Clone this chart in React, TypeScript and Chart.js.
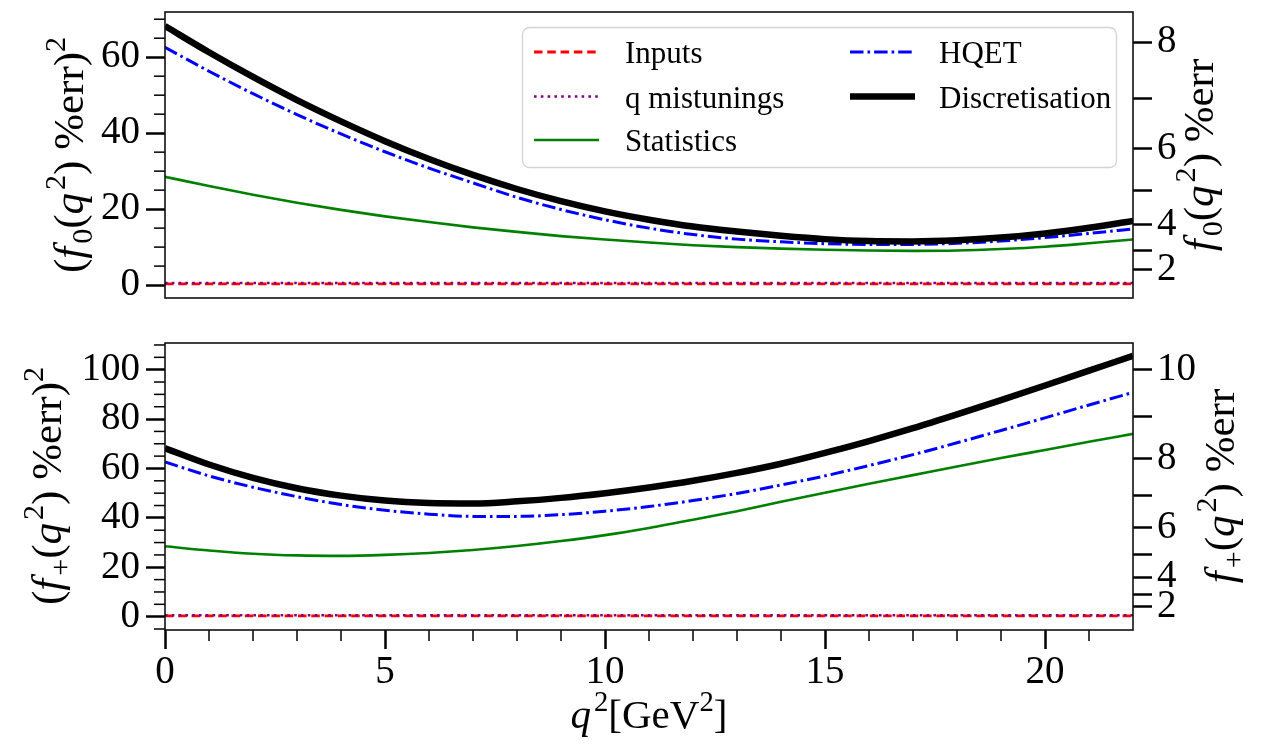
import React, { useEffect, useRef } from "react";
import { Chart, registerables } from "chart.js";
Chart.register(...registerables);

const FONT = '"Liberation Serif", "DejaVu Serif", serif';

// ---------- data ----------
const q2Values = [0, 1, 2, 3, 4, 5, 6, 7, 8, 9, 10, 11, 12, 13, 14, 15, 16, 17, 18, 19, 20, 21, 22];

// f0 panel (squared % error)
const f0Inputs = [0.3, 0.3, 0.3, 0.3, 0.3, 0.3, 0.3, 0.3, 0.3, 0.3, 0.3, 0.3, 0.3, 0.3, 0.3, 0.3, 0.3, 0.3, 0.3, 0.3, 0.3, 0.3, 0.3];
const f0Mistunings = [0.55, 0.55, 0.55, 0.55, 0.55, 0.55, 0.55, 0.55, 0.55, 0.55, 0.55, 0.55, 0.55, 0.55, 0.55, 0.55, 0.55, 0.55, 0.55, 0.55, 0.55, 0.55, 0.55];
const f0Statistics = [28.5, 26.1, 23.8, 21.7, 19.8, 18.1, 16.6, 15.2, 14.0, 12.9, 12.0, 11.2, 10.5, 10.0, 9.6, 9.3, 9.1, 9.0, 9.1, 9.5, 10.1, 11.0, 12.0];
const f0HQET = [62.6, 56.3, 50.4, 44.9, 39.8, 35.1, 30.8, 26.9, 23.1, 19.9, 17.2, 15.0, 13.3, 12.1, 11.4, 10.9, 10.7, 10.7, 11.0, 11.6, 12.5, 13.6, 14.8];
const f0Discretisation = [68.2, 61.3, 54.8, 48.7, 43.1, 37.9, 33.2, 29.0, 25.3, 22.1, 19.4, 17.2, 15.4, 14.1, 13.0, 12.1, 11.6, 11.5, 11.8, 12.5, 13.6, 15.1, 16.9];

// f+ panel (squared % error)
const fpInputs = [0.3, 0.3, 0.3, 0.3, 0.3, 0.3, 0.3, 0.3, 0.3, 0.3, 0.3, 0.3, 0.3, 0.3, 0.3, 0.3, 0.3, 0.3, 0.3, 0.3, 0.3, 0.3, 0.3];
const fpMistunings = [0.55, 0.55, 0.55, 0.55, 0.55, 0.55, 0.55, 0.55, 0.55, 0.55, 0.55, 0.55, 0.55, 0.55, 0.55, 0.55, 0.55, 0.55, 0.55, 0.55, 0.55, 0.55, 0.55];
const fpStatistics = [28.5, 26.8, 25.5, 24.8, 24.6, 25.0, 25.8, 27.0, 28.6, 30.6, 33.0, 35.9, 39.2, 42.7, 46.5, 50.2, 53.8, 57.3, 60.8, 64.2, 67.5, 70.8, 74.0];
const fpHQET = [62.6, 57.0, 52.4, 48.6, 45.4, 43.1, 41.5, 40.6, 40.6, 41.3, 42.7, 44.6, 47.0, 49.9, 53.3, 57.0, 61.2, 65.6, 70.4, 75.4, 80.5, 85.7, 90.8];
const fpDiscretisation = [68.2, 61.6, 56.2, 52.0, 49.0, 47.0, 46.0, 45.8, 46.7, 48.1, 50.0, 52.3, 55.0, 58.2, 61.9, 66.3, 71.1, 76.3, 81.9, 87.7, 93.6, 99.6, 105.6];

const seriesLabels = ["Inputs", "q mistunings", "Statistics", "HQET", "Discretisation"];

// ticks
const xMajorTicks = [0, 5, 10, 15, 20];
const xMinorTicks = [1, 2, 3, 4, 6, 7, 8, 9, 11, 12, 13, 14, 16, 17, 18, 19, 21];
const f0LeftTicks = [0, 20, 40, 60];
const f0LeftMinor = [5, 10, 15, 25, 30, 35, 45, 50, 55, 65, 70];
const f0RightPct = [2, 3, 4, 5, 6, 7, 8];
const fpLeftTicks = [0, 20, 40, 60, 80, 100];
const fpLeftMinor = [-5, 5, 10, 15, 25, 30, 35, 45, 50, 55, 65, 70, 75, 85, 90, 95, 105, 110];
const fpRightPct = [2, 3, 4, 5, 6, 7, 8, 9, 10];

// ---------- rich text ----------
type Seg = { t: string; it?: boolean; sub?: boolean; sup?: boolean };

const f0LeftTitle: Seg[] = [{ t: "(" }, { t: "f", it: true }, { t: "0", sub: true }, { t: "(" }, { t: "q", it: true }, { t: "2", sup: true }, { t: ") %err)" }, { t: "2", sup: true }];
const fpLeftTitle: Seg[] = [{ t: "(" }, { t: "f", it: true }, { t: "+", sub: true }, { t: "(" }, { t: "q", it: true }, { t: "2", sup: true }, { t: ") %err)" }, { t: "2", sup: true }];
const f0RightTitle: Seg[] = [{ t: "f", it: true }, { t: "0", sub: true }, { t: "(" }, { t: "q", it: true }, { t: "2", sup: true }, { t: ") %err" }];
const fpRightTitle: Seg[] = [{ t: "f", it: true }, { t: "+", sub: true }, { t: "(" }, { t: "q", it: true }, { t: "2", sup: true }, { t: ") %err" }];
const xTitle: Seg[] = [{ t: "q", it: true }, { t: "2", sup: true }, { t: "[GeV" }, { t: "2", sup: true }, { t: "]" }];

function segFont(s: Seg, size: number) {
  const sz = s.sub || s.sup ? size * 0.7 : size;
  return `${s.it ? "italic " : ""}${sz}px ${FONT}`;
}
function segAdvance(ctx: CanvasRenderingContext2D, s: Seg, size: number) {
  ctx.font = segFont(s, size);
  return ctx.measureText(s.t).width + (s.it ? size * 0.07 : 0);
}
function drawRich(ctx: CanvasRenderingContext2D, segs: Seg[], size: number, ax: number, ay: number, rot: number) {
  ctx.save();
  ctx.translate(ax, ay);
  ctx.rotate(rot);
  ctx.fillStyle = "#000";
  ctx.textBaseline = "alphabetic";
  ctx.textAlign = "left";
  let w = 0;
  for (const s of segs) w += segAdvance(ctx, s, size);
  let x = -w / 2;
  for (const s of segs) {
    ctx.font = segFont(s, size);
    const dy = s.sub ? size * 0.22 : s.sup ? -size * 0.42 : 0;
    ctx.fillText(s.t, x, dy);
    x += segAdvance(ctx, s, size);
  }
  ctx.restore();
}

// ---------- plugin ----------
const decorPlugin = {
  id: "decor",
  afterDatasetsDraw(chart: any, _args: any, opts: any) {
    const ctx: CanvasRenderingContext2D = chart.ctx;
    const ca = chart.chartArea;
    ctx.save();
    ctx.setLineDash([]);
    // minor ticks (left y)
    const ys = chart.scales.y;
    ctx.strokeStyle = "#000";
    ctx.lineWidth = 1.5;
    for (const v of opts.yMinor) {
      const p = ys.getPixelForValue(v);
      if (p < ca.top - 0.5 || p > ca.bottom + 0.5) continue;
      ctx.beginPath();
      ctx.moveTo(ca.left - 11, p);
      ctx.lineTo(ca.left, p);
      ctx.stroke();
    }
    if (opts.xMinor) {
      const xs = chart.scales.x;
      for (const v of opts.xMinor) {
        const p = xs.getPixelForValue(v);
        ctx.beginPath();
        ctx.moveTo(p, ca.bottom);
        ctx.lineTo(p, ca.bottom + 11);
        ctx.stroke();
      }
    }
    // frame
    ctx.strokeStyle = "#111";
    ctx.lineWidth = 1.6;
    ctx.strokeRect(ca.left, ca.top, ca.right - ca.left, ca.bottom - ca.top);
    // titles
    drawRich(ctx, opts.leftTitle, 43, opts.leftBase, opts.titleY, -Math.PI / 2);
    drawRich(ctx, opts.rightTitle, 43, opts.rightBase, opts.titleY, -Math.PI / 2);
    if (opts.xTitle) drawRich(ctx, opts.xTitle, 41, (ca.left + ca.right) / 2, opts.xTitleY, 0);
    // legend
    if (opts.legend) {
      ctx.beginPath();
      ctx.roundRect(522.5, 27.5, 594, 140, 7);
      ctx.fillStyle = "rgba(255,255,255,0.8)";
      ctx.fill();
      ctx.strokeStyle = "#d4d4d4";
      ctx.lineWidth = 1.3;
      ctx.stroke();
      const lineX = [534, 850];
      const textX = [625, 939];
      const rowY = [52, 96.5, 140];
      chart.data.datasets.forEach((ds: any, i: number) => {
        const col = Math.floor(i / 3);
        const row = i % 3;
        const y = rowY[row];
        ctx.save();
        ctx.strokeStyle = ds.borderColor;
        ctx.lineWidth = ds.borderWidth;
        ctx.setLineDash(ds.borderDash || []);
        ctx.lineCap = "butt";
        ctx.beginPath();
        ctx.moveTo(lineX[col], y);
        ctx.lineTo(lineX[col] + 65, y);
        ctx.stroke();
        ctx.restore();
        ctx.fillStyle = "#000";
        ctx.font = `31px ${FONT}`;
        ctx.textBaseline = "alphabetic";
        ctx.textAlign = "left";
        ctx.fillText(ds.label, textX[col], y + 11);
      });
    }
    ctx.restore();
  },
};

function makeDatasets(vals: number[][]) {
  const styles = [
    { color: "#ff0000", width: 2.8, dash: [8.5, 4.8] },
    { color: "#800080", width: 2.6, dash: [2.6, 4.2] },
    { color: "#008000", width: 2.6, dash: [] as number[] },
    { color: "#0000ff", width: 3, dash: [13.5, 4, 2.6, 4] },
    { color: "#000000", width: 6.5, dash: [] as number[] },
  ];
  return vals.map((arr, i) => ({
    label: seriesLabels[i],
    data: q2Values.map((q, k) => ({ x: q, y: arr[k] })),
    borderColor: styles[i].color,
    borderWidth: styles[i].width,
    borderDash: styles[i].dash,
    borderCapStyle: "butt",
    borderJoinStyle: "round",
    pointRadius: 0,
    fill: false,
    cubicInterpolationMode: "monotone",
    clip: 0,
    order: 4 - i,
  }));
}

function makeYAxes(min: number, max: number, leftTicks: number[], rightPct: number[]) {
  const tickFont = { family: FONT, size: 39 };
  return {
    y: {
      type: "linear",
      position: "left",
      min,
      max,
      afterBuildTicks: (s: any) => {
        s.ticks = leftTicks.map((v) => ({ value: v }));
      },
      afterFit: (s: any) => {
        s.width = 165;
        s.paddingTop = 0;
        s.paddingBottom = 0;
      },
      grid: { drawOnChartArea: false, drawTicks: true, tickLength: 19, tickWidth: 2.5, tickColor: "#000" },
      border: { display: false },
      ticks: { font: tickFont, color: "#000", padding: 6, autoSkip: false, callback: (v: number) => String(v) },
    },
    y2: {
      type: "linear",
      position: "right",
      min,
      max,
      afterBuildTicks: (s: any) => {
        s.ticks = rightPct.map((p) => ({ value: p * p }));
      },
      afterFit: (s: any) => {
        s.width = 128;
        s.paddingTop = 0;
        s.paddingBottom = 0;
      },
      grid: { drawOnChartArea: false, drawTicks: true, tickLength: 19, tickWidth: 2.5, tickColor: "#000" },
      border: { display: false },
      ticks: {
        font: tickFont,
        color: "#000",
        padding: 5,
        autoSkip: false,
        callback: (v: number) => {
          const p = Math.round(Math.sqrt(v));
          return p % 2 === 0 ? String(p) : "";
        },
      },
    },
  };
}

function topConfig(): any {
  return {
    type: "line",
    data: { datasets: makeDatasets([f0Inputs, f0Mistunings, f0Statistics, f0HQET, f0Discretisation]) },
    options: {
      animation: false,
      responsive: false,
      events: [],
      layout: { padding: { top: 12, bottom: 22, left: 0, right: 0 } },
      scales: {
        x: { type: "linear", min: 0, max: 22, display: false },
        ...makeYAxes(-3.4, 71.9, f0LeftTicks, f0RightPct),
      },
      plugins: {
        legend: { display: false },
        tooltip: { enabled: false },
        decor: {
          yMinor: f0LeftMinor,
          leftTitle: f0LeftTitle,
          rightTitle: f0RightTitle,
          leftBase: 83,
          rightBase: 1213,
          titleY: 155,
          legend: true,
        },
      },
    },
    plugins: [decorPlugin],
  };
}

function bottomConfig(): any {
  return {
    type: "line",
    data: { datasets: makeDatasets([fpInputs, fpMistunings, fpStatistics, fpHQET, fpDiscretisation]) },
    options: {
      animation: false,
      responsive: false,
      events: [],
      layout: { padding: { top: 23, bottom: 0, left: 0, right: 0 } },
      scales: {
        x: {
          type: "linear",
          position: "bottom",
          min: 0,
          max: 22,
          afterBuildTicks: (s: any) => {
            s.ticks = xMajorTicks.map((v) => ({ value: v }));
          },
          afterFit: (s: any) => {
            s.height = 114;
            s.paddingLeft = 0;
            s.paddingRight = 0;
          },
          grid: { drawOnChartArea: false, drawTicks: true, tickLength: 19, tickWidth: 2.5, tickColor: "#000" },
          border: { display: false },
          ticks: { font: { family: FONT, size: 39 }, color: "#000", padding: 0, autoSkip: false, maxRotation: 0, callback: (v: number) => String(v) },
        },
        ...makeYAxes(-5.4, 110.8, fpLeftTicks, fpRightPct),
      },
      plugins: {
        legend: { display: false },
        tooltip: { enabled: false },
        decor: {
          yMinor: fpLeftMinor,
          xMinor: xMinorTicks,
          leftTitle: fpLeftTitle,
          rightTitle: fpRightTitle,
          leftBase: 61,
          rightBase: 1234,
          titleY: 166,
          xTitle: xTitle,
          xTitleY: 408,
        },
      },
    },
    plugins: [decorPlugin],
  };
}

export default function App() {
  const topRef = useRef<HTMLCanvasElement | null>(null);
  const botRef = useRef<HTMLCanvasElement | null>(null);
  useEffect(() => {
    const c1 = new Chart(topRef.current as HTMLCanvasElement, topConfig());
    const c2 = new Chart(botRef.current as HTMLCanvasElement, bottomConfig());
    return () => {
      c1.destroy();
      c2.destroy();
    };
  }, []);
  return (
    <div style={{ position: "absolute", left: 0, top: 0, width: 1261, height: 744, background: "#fff", overflow: "hidden" }}>
      <canvas ref={topRef} width={1261} height={320} style={{ position: "absolute", left: 0, top: 0, width: 1261, height: 320 }} />
      <canvas ref={botRef} width={1261} height={424} style={{ position: "absolute", left: 0, top: 320, width: 1261, height: 424 }} />
    </div>
  );
}
